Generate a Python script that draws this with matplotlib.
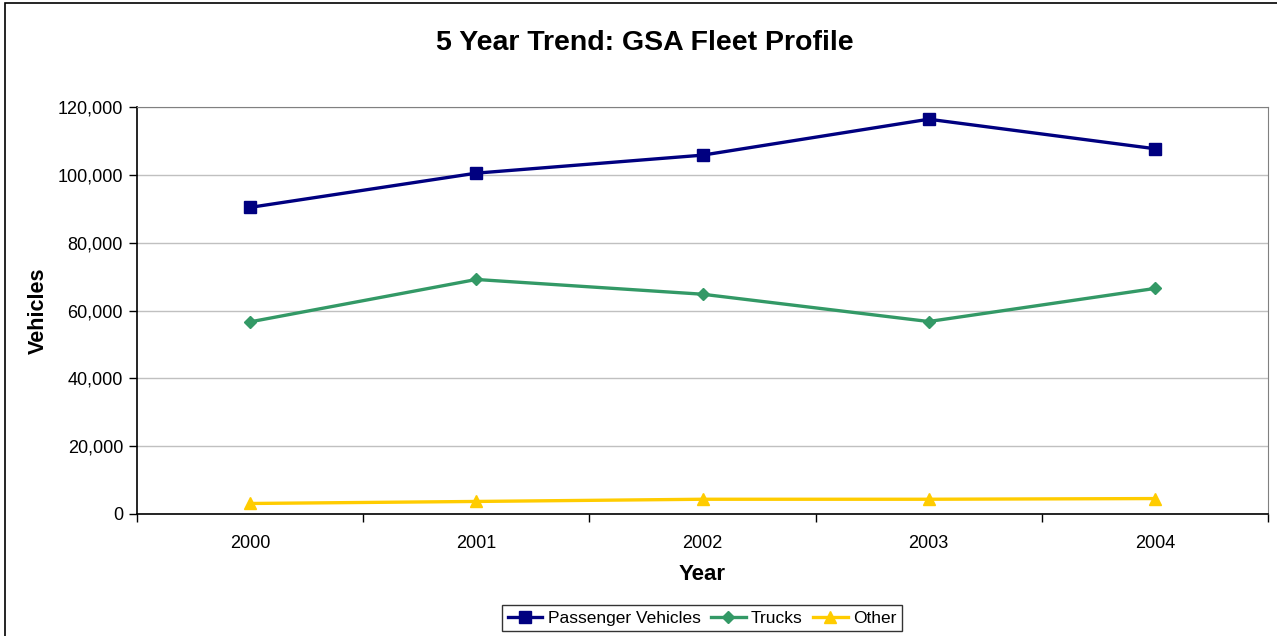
import matplotlib.pyplot as plt
from matplotlib.patches import Rectangle
from matplotlib.ticker import FuncFormatter

plt.rcParams['font.family'] = ['Liberation Sans', 'DejaVu Sans']

years = ['2000', '2001', '2002', '2003', '2004']
passenger = [90400, 100500, 105800, 116400, 107700]
trucks = [56650, 69150, 64800, 56750, 66500]
other = [3100, 3700, 4350, 4350, 4550]

fig = plt.figure(figsize=(12.77, 6.36), dpi=100)
W, H = 1277, 636
ax = fig.add_axes([137 / W, 1 - 514 / H, (1268 - 137) / W, (514 - 107) / H])

# outer chart border
fig.patches.append(Rectangle((5 / W, -0.1), 1.2, 1 - 3 / H + 0.1, transform=fig.transFigure,
                             fill=False, edgecolor='black', linewidth=1.2))

x = list(range(len(years)))
ax.plot(x, passenger, color='#000080', lw=2.4, marker='s', ms=8, label='Passenger Vehicles')
ax.plot(x, trucks, color='#339966', lw=2.4, marker='D', ms=6.5, label='Trucks')
ax.plot(x, other, color='#FFCC00', lw=2.4, marker='^', ms=8, label='Other')

ax.set_xlim(-0.5, len(years) - 0.5)
ax.set_ylim(0, 120000)
ax.set_yticks(range(0, 120001, 20000))
ax.yaxis.set_major_formatter(FuncFormatter(lambda v, p: f'{int(v):,}'))
ax.grid(axis='y', color='#c0c0c0', lw=1)
ax.set_axisbelow(True)

ax.set_xticks(x)
ax.set_xticklabels(years)
ax.set_xticks([i - 0.5 for i in range(len(years) + 1)], minor=True)
ax.tick_params(axis='x', which='major', length=0, pad=15, labelsize=13)
ax.tick_params(axis='x', which='minor', length=6, width=1, direction='out')
ax.tick_params(axis='y', length=6, width=1, direction='out', labelsize=13, pad=4)

for s in ['top', 'right']:
    ax.spines[s].set_color('#808080')
for s in ['left', 'bottom']:
    ax.spines[s].set_color('black')
    ax.spines[s].set_linewidth(1.2)

ax.set_xlabel('Year', fontsize=16, fontweight='bold', labelpad=9)
ax.set_ylabel('Vehicles', fontsize=15.5, fontweight='bold', labelpad=6)
fig.text(645 / W, 1 - 43 / H, '5 Year Trend: GSA Fleet Profile', ha='center', va='center',
         fontsize=20.5, fontweight='bold')

leg = fig.legend(loc='center', bbox_to_anchor=(702 / W, 1 - 618 / H), ncol=3, frameon=True,
                 fancybox=False, edgecolor='black', fontsize=12.5, handlelength=2.0,
                 handletextpad=0.3, columnspacing=0.6, borderpad=0.3)
leg.get_frame().set_linewidth(1)

fig.savefig('out.png', dpi=100)
